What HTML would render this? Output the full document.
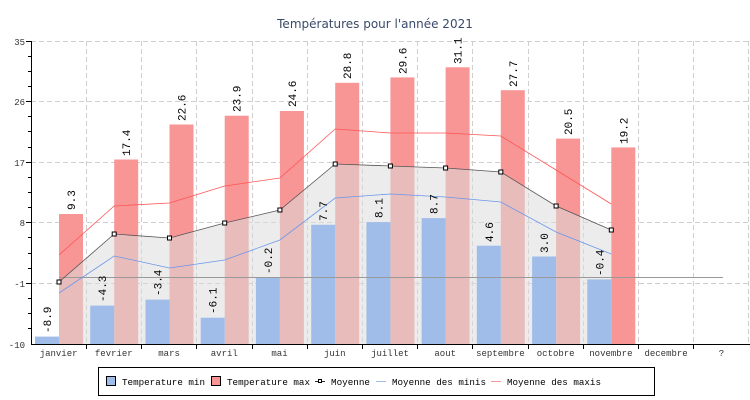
<!DOCTYPE html>
<html><head><meta charset="utf-8"><style>
html,body{margin:0;padding:0;background:#fff;}
svg{display:block;}
text{font-family:"Liberation Mono","DejaVu Sans Mono",monospace;}
</style></head><body>
<svg width="750" height="400" viewBox="0 0 750 400" xmlns="http://www.w3.org/2000/svg">
<rect width="750" height="400" fill="#fff"/>
<text x="375" y="28" text-anchor="middle" font-size="12" fill="#3a4a6a" style="font-family:'DejaVu Sans','Liberation Sans',sans-serif">Températures pour l'année 2021</text>
<g stroke="#cfcfcf" stroke-dasharray="5,3" stroke-width="1">
<line x1="31" y1="41.5" x2="749" y2="41.5"/>
<line x1="31" y1="101.5" x2="749" y2="101.5"/>
<line x1="31" y1="162.5" x2="749" y2="162.5"/>
<line x1="31" y1="222.5" x2="749" y2="222.5"/>
<line x1="31" y1="283.5" x2="749" y2="283.5"/>
<line x1="86.5" y1="41" x2="86.5" y2="344"/><line x1="141.5" y1="41" x2="141.5" y2="344"/><line x1="196.5" y1="41" x2="196.5" y2="344"/><line x1="252.5" y1="41" x2="252.5" y2="344"/><line x1="307.5" y1="41" x2="307.5" y2="344"/><line x1="362.5" y1="41" x2="362.5" y2="344"/><line x1="417.5" y1="41" x2="417.5" y2="344"/><line x1="472.5" y1="41" x2="472.5" y2="344"/><line x1="528.5" y1="41" x2="528.5" y2="344"/><line x1="583.5" y1="41" x2="583.5" y2="344"/><line x1="638.5" y1="41" x2="638.5" y2="344"/><line x1="693.5" y1="41" x2="693.5" y2="344"/><line x1="748.5" y1="41" x2="748.5" y2="344"/>
</g>
<g fill="#f89595">
<rect x="59" y="214" width="24" height="130"/>
<rect x="114.2" y="159.5" width="24" height="184.5"/>
<rect x="169.5" y="124.5" width="24" height="219.5"/>
<rect x="224.7" y="115.7" width="24" height="228.3"/>
<rect x="279.9" y="111" width="24" height="233"/>
<rect x="335.2" y="82.8" width="24" height="261.2"/>
<rect x="390.4" y="77.4" width="24" height="266.6"/>
<rect x="445.6" y="67.3" width="24" height="276.7"/>
<rect x="500.8" y="90.2" width="24" height="253.8"/>
<rect x="556.1" y="138.6" width="24" height="205.4"/>
<rect x="611.3" y="147.4" width="24" height="196.6"/>
</g>
<polygon points="59,282 114.2,234 169.5,238 224.7,223 279.9,210 335.2,164 390.4,166 445.6,168 500.8,172 556.1,206 611.3,230 611.3,344 59,344" fill="#dcdcdc" fill-opacity="0.55"/>
<g fill="#a0bdea">
<rect x="35" y="336.6" width="24" height="7.4"/>
<rect x="90.2" y="305.6" width="24" height="38.4"/>
<rect x="145.5" y="299.6" width="24" height="44.4"/>
<rect x="200.7" y="317.7" width="24" height="26.3"/>
<rect x="255.9" y="278" width="24" height="66"/>
<rect x="311.2" y="224.8" width="24" height="119.2"/>
<rect x="366.4" y="222.1" width="24" height="121.9"/>
<rect x="421.6" y="218.1" width="24" height="125.9"/>
<rect x="476.8" y="245.7" width="24" height="98.3"/>
<rect x="532.1" y="256.5" width="24" height="87.5"/>
<rect x="587.3" y="279.4" width="24" height="64.6"/>
</g>
<line x1="59" y1="277.5" x2="723" y2="277.5" stroke="#999" stroke-width="1"/>
<polyline points="59,255 114.2,206 169.5,203 224.7,186 279.9,178 335.2,129 390.4,133 445.6,133 500.8,136 556.1,170 611.3,204" fill="none" stroke="#f55" stroke-width="0.8"/>
<polyline points="59,293 114.2,256 169.5,268 224.7,260 279.9,240 335.2,198 390.4,194 445.6,197 500.8,202 556.1,232 611.3,254" fill="none" stroke="#6a96ea" stroke-width="0.8"/>
<polyline points="59,282 114.2,234 169.5,238 224.7,223 279.9,210 335.2,164 390.4,166 445.6,168 500.8,172 556.1,206 611.3,230" fill="none" stroke="#555" stroke-width="0.8"/>
<g fill="#fff" stroke="#000" stroke-width="1">
<rect x="57" y="280" width="4" height="4"/><rect x="112.2" y="232" width="4" height="4"/><rect x="167.5" y="236" width="4" height="4"/><rect x="222.7" y="221" width="4" height="4"/><rect x="277.9" y="208" width="4" height="4"/><rect x="333.2" y="162" width="4" height="4"/><rect x="388.4" y="164" width="4" height="4"/><rect x="443.6" y="166" width="4" height="4"/><rect x="498.8" y="170" width="4" height="4"/><rect x="554.1" y="204" width="4" height="4"/><rect x="609.3" y="228" width="4" height="4"/>
</g>
<g font-size="11" fill="#000">
<text transform="translate(51,333) rotate(-90)">-8.9</text>
<text transform="translate(106,302) rotate(-90)">-4.3</text>
<text transform="translate(161.5,296) rotate(-90)">-3.4</text>
<text transform="translate(216.7,314) rotate(-90)">-6.1</text>
<text transform="translate(271.9,274) rotate(-90)">-0.2</text>
<text transform="translate(327.2,221) rotate(-90)">7.7</text>
<text transform="translate(382.4,218) rotate(-90)">8.1</text>
<text transform="translate(437.6,214) rotate(-90)">8.7</text>
<text transform="translate(492.8,242) rotate(-90)">4.6</text>
<text transform="translate(548.1,253) rotate(-90)">3.0</text>
<text transform="translate(603.3,276) rotate(-90)">-0.4</text>
<text transform="translate(75,210) rotate(-90)">9.3</text>
<text transform="translate(130.2,156) rotate(-90)">17.4</text>
<text transform="translate(185.5,121) rotate(-90)">22.6</text>
<text transform="translate(240.7,112) rotate(-90)">23.9</text>
<text transform="translate(295.9,107) rotate(-90)">24.6</text>
<text transform="translate(351.2,79) rotate(-90)">28.8</text>
<text transform="translate(406.4,74) rotate(-90)">29.6</text>
<text transform="translate(461.6,64) rotate(-90)">31.1</text>
<text transform="translate(516.8,87) rotate(-90)">27.7</text>
<text transform="translate(572.1,135) rotate(-90)">20.5</text>
<text transform="translate(627.3,144) rotate(-90)">19.2</text>
</g>
<g stroke="#000" stroke-width="1">
<line x1="31.5" y1="41" x2="31.5" y2="345"/>
<line x1="31" y1="344.5" x2="750" y2="344.5"/>
<line x1="26" y1="41.5" x2="31" y2="41.5"/><line x1="26" y1="101.5" x2="31" y2="101.5"/><line x1="26" y1="162.5" x2="31" y2="162.5"/><line x1="26" y1="222.5" x2="31" y2="222.5"/><line x1="26" y1="283.5" x2="31" y2="283.5"/>
<line x1="28" y1="56.5" x2="31" y2="56.5"/><line x1="28" y1="71.5" x2="31" y2="71.5"/><line x1="28" y1="86.5" x2="31" y2="86.5"/>
<line x1="28" y1="116.5" x2="31" y2="116.5"/><line x1="28" y1="131.5" x2="31" y2="131.5"/><line x1="28" y1="147.5" x2="31" y2="147.5"/>
<line x1="28" y1="177.5" x2="31" y2="177.5"/><line x1="28" y1="192.5" x2="31" y2="192.5"/><line x1="28" y1="207.5" x2="31" y2="207.5"/>
<line x1="28" y1="237.5" x2="31" y2="237.5"/><line x1="28" y1="253.5" x2="31" y2="253.5"/><line x1="28" y1="268.5" x2="31" y2="268.5"/>
<line x1="28" y1="298.5" x2="31" y2="298.5"/><line x1="28" y1="313.5" x2="31" y2="313.5"/><line x1="28" y1="328.5" x2="31" y2="328.5"/>
<line x1="86.5" y1="344" x2="86.5" y2="349"/><line x1="141.5" y1="344" x2="141.5" y2="349"/><line x1="196.5" y1="344" x2="196.5" y2="349"/><line x1="252.5" y1="344" x2="252.5" y2="349"/><line x1="307.5" y1="344" x2="307.5" y2="349"/><line x1="362.5" y1="344" x2="362.5" y2="349"/><line x1="417.5" y1="344" x2="417.5" y2="349"/><line x1="472.5" y1="344" x2="472.5" y2="349"/><line x1="528.5" y1="344" x2="528.5" y2="349"/><line x1="583.5" y1="344" x2="583.5" y2="349"/><line x1="638.5" y1="344" x2="638.5" y2="349"/><line x1="693.5" y1="344" x2="693.5" y2="349"/>
</g>
<g font-size="9" fill="#333" text-anchor="end" style="font-family:'DejaVu Sans','Liberation Sans',sans-serif">
<text x="25" y="45">35</text><text x="25" y="105">26</text><text x="25" y="166">17</text><text x="25" y="226">8</text><text x="25" y="287">-1</text><text x="25" y="348">-10</text>
</g>
<g font-size="9" fill="#333" text-anchor="middle" style="font-family:'DejaVu Sans','Liberation Sans',sans-serif">
<text x="58.6" y="356">janvier</text><text x="113.8" y="356">fevrier</text><text x="169.1" y="356">mars</text><text x="224.3" y="356">avril</text><text x="279.5" y="356">mai</text><text x="334.8" y="356">juin</text><text x="390" y="356">juillet</text><text x="445.2" y="356">aout</text><text x="500.4" y="356">septembre</text><text x="555.7" y="356">octobre</text><text x="610.9" y="356">novembre</text><text x="666.1" y="356">decembre</text><text x="721.4" y="356">?</text>
</g>
<rect x="98.5" y="367.5" width="556" height="28" fill="#fff" stroke="#000"/>
<rect x="106.5" y="376.5" width="9" height="9" fill="#a0bdea" stroke="#000"/>
<rect x="211.5" y="376.5" width="9" height="9" fill="#f89595" stroke="#000"/>
<line x1="315" y1="381.5" x2="325" y2="381.5" stroke="#333"/><rect x="318.5" y="379.5" width="3" height="3" fill="#fff" stroke="#000"/>
<line x1="376" y1="381.5" x2="386" y2="381.5" stroke="#a0bdea"/>
<line x1="491" y1="381.5" x2="501" y2="381.5" stroke="#f89595"/>
<g font-size="9.2" fill="#000">
<text x="122" y="385" textLength="83" lengthAdjust="spacingAndGlyphs">Temperature min</text>
<text x="227" y="385" textLength="83" lengthAdjust="spacingAndGlyphs">Temperature max</text>
<text x="331" y="385" textLength="39" lengthAdjust="spacingAndGlyphs">Moyenne</text>
<text x="392" y="385" textLength="94" lengthAdjust="spacingAndGlyphs">Moyenne des minis</text>
<text x="507" y="385" textLength="94" lengthAdjust="spacingAndGlyphs">Moyenne des maxis</text>
</g>
</svg>
</body></html>
